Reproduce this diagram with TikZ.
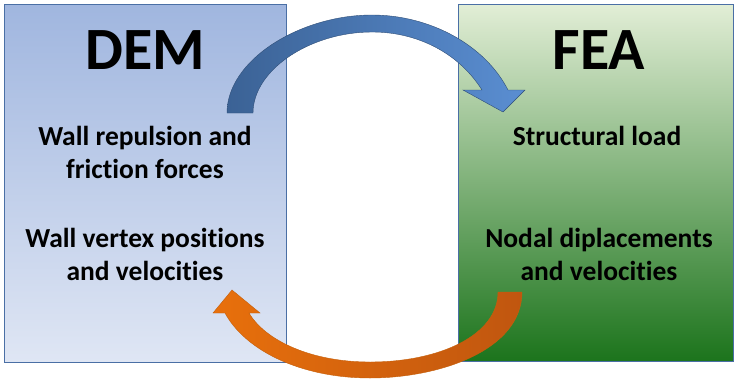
\documentclass[tikz,border=0pt]{standalone}
\usepackage{fontspec}
\setmainfont{Carlito}[Ligatures=NoCommon]
\begin{document}
\begin{tikzpicture}[x=1pt,y=-1pt,
  panel/.style={draw=boxedge,line width=1.3pt},
  title/.style={font=\bfseries\fontsize{60}{60}\selectfont,anchor=base},
  body/.style={font=\bfseries\fontsize{27.5}{33}\selectfont,align=center,anchor=base}]
\definecolor{boxedge}{HTML}{4A6FA5}
\definecolor{demtop}{HTML}{A0B6DF}
\definecolor{dembot}{HTML}{DFE6F4}
\definecolor{featop}{HTML}{E2EED6}
\definecolor{feamid}{HTML}{9CC27F}
\definecolor{feabot}{HTML}{1C741C}
\definecolor{bluedark}{HTML}{3B6295}
\definecolor{bluelight}{HTML}{5A8ED2}
\definecolor{orangedark}{HTML}{C0560F}
\definecolor{orangelight}{HTML}{E8700C}
\useasboundingbox (0,0) rectangle (734,383);
% the two model boxes
\shade[top color=demtop,bottom color=dembot] (4,4) rectangle (286,362);
\node[panel,minimum width=282pt,minimum height=358pt,anchor=north west,inner sep=0pt] (dem) at (4,4) {};
\shade[top color=featop,middle color=feamid,bottom color=feabot] (458,4) rectangle (733,361);
\node[panel,minimum width=275pt,minimum height=357pt,anchor=north west,inner sep=0pt] (fea) at (458,4) {};
% box titles and contents
\node[title] (demtitle) at (145,69) {DEM};
\node[title] (featitle) at (599,69) {FEA};
\node[body] (forces) at (145,178) {Wall repulsion and\\friction forces};
\node[body] (vertex) at (145,280) {Wall vertex positions\\and velocities};
\node[body] (load) at (597,145) {Structural load};
\node[body] (nodal) at (599,280) {Nodal diplacements\\and velocities};
% DEM -> FEA curved block arrow
\shade[left color=bluedark,right color=bluelight,draw=bluedark!80!black,line width=0.4pt]
  (227,113) .. controls (227,60) and (300,15) .. (372,15)
  .. controls (430,15) and (485,45) .. (508,90)
  -- (525,90) -- (503,112) -- (463,90) -- (482,90)
  .. controls (460,55) and (420,32) .. (372,32)
  .. controls (310,32) and (253,70) .. (253,113) -- cycle;
% FEA -> DEM curved block arrow
\shade[right color=orangedark,left color=orangelight,draw=orangelight!85!black,line width=0.4pt]
  (522,292) .. controls (522,350) and (440,378) .. (370,378)
  .. controls (300,378) and (245,350) .. (225,313)
  -- (213,313) -- (232,290) -- (260,313) -- (249,313)
  .. controls (265,340) and (310,362) .. (370,362)
  .. controls (440,362) and (498,335) .. (498,292) -- cycle;
\end{tikzpicture}
\end{document}
